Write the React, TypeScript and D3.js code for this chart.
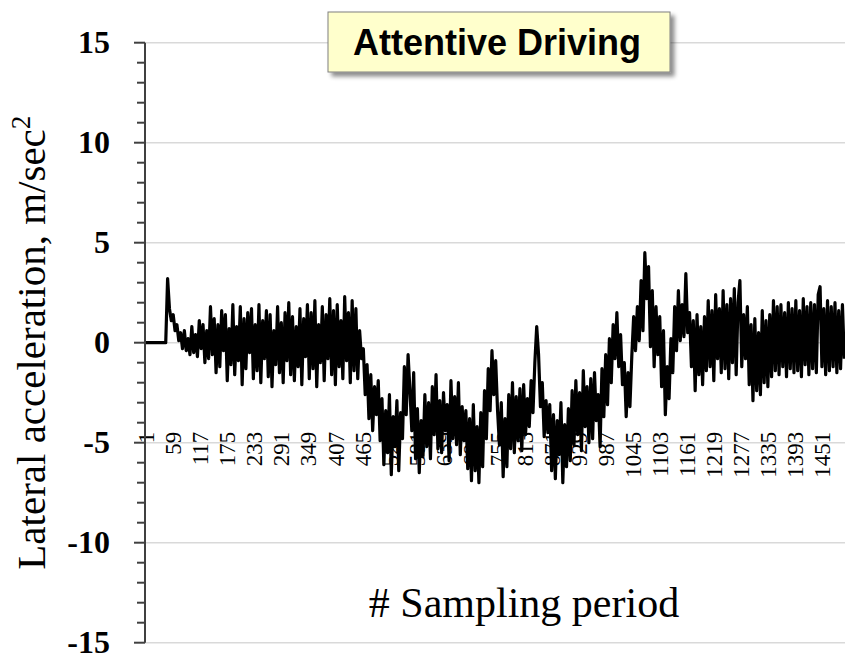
import React from "react";
import * as d3 from "d3";

// Lateral acceleration (m/sec^2), one reading every 4th sampling period starting at #1
const SAMPLE_STEP = 4;
const SAMPLE_COUNT = 1502;

const accel: number[] = [
  0, 0, 0, 0, 0, 0, 0, 0, 0, 0,
  0, 0, 3.2, 1.7, 1.1, 1.4, 0.6, 0.9, 0.1, 0.5,
  -0.3, 0.6, -0.4, 0.2, -0.6, 0.8, -0.5, 0.4, -0.7, 1.1,
  -0.3, 0.9, -1.0, 0.6, -0.8, 1.8, -0.6, 1.2, -1.5, 0.9,
  -1.2, 1.6, -0.4, 1.4, -1.9, 0.7, -1.1, 1.9, -1.6, 0.8,
  -0.9, 1.8, -2.1, 1.2, -1.3, 1.5, -0.5, 1.7, -1.8, 0.9,
  -1.4, 1.9, -2.0, 1.1, -0.8, 1.6, -1.7, 1.4, -2.2, 0.6,
  -1.1, 1.8, -1.5, 1.0, -2.0, 1.5, -0.9, 2.0, -1.6, 1.3,
  -1.9, 0.8, -1.2, 1.7, -2.1, 1.2, -0.7, 1.9, -1.8, 1.5,
  -1.3, 2.1, -2.2, 0.9, -1.0, 1.8, -1.9, 1.4, -0.8, 2.2,
  -1.6, 1.6, -2.1, 1.9, -1.2, 1.1, -1.8, 2.3, -0.9, 1.5,
  -2.0, 2.1, -1.4, 1.7, -1.8, 0.6, -0.8, -0.3, -2.6, -1.1,
  -3.8, -1.6, -4.4, -2.2, -3.6, -1.9, -4.9, -2.8, -6.1, -3.4,
  -5.5, -2.6, -6.6, -3.7, -5.2, -2.9, -6.4, -3.5, -4.8, -1.2,
  -3.6, -0.6, -2.4, -4.4, -1.5, -5.8, -3.3, -6.5, -3.9, -5.7,
  -2.6, -5.2, -3.0, -5.8, -2.2, -4.6, -1.6, -5.3, -2.9, -5.5,
  -2.5, -4.4, -3.1, -5.9, -1.9, -4.8, -2.7, -5.1, -2.0, -5.6,
  -3.2, -4.9, -3.4, -6.3, -3.8, -6.9, -3.1, -6.4, -4.2, -7.0,
  -3.5, -6.2, -2.4, -4.8, -1.3, -3.4, -0.4, -2.6, -0.9, -3.4,
  -5.1, -3.0, -6.7, -3.8, -6.2, -2.6, -5.3, -2.0, -5.5, -2.7,
  -4.9, -2.3, -5.4, -2.1, -4.6, -2.8, -4.2, -1.9, -3.5, -1.0,
  0.8, -0.6, -3.2, -2.0, -4.7, -2.9, -4.5, -3.1, -6.4, -3.6,
  -6.8, -3.9, -5.6, -3.0, -7.0, -4.1, -6.2, -3.3, -5.9, -2.4,
  -5.1, -1.9, -4.6, -2.5, -5.4, -1.4, -4.2, -2.2, -5.0, -1.8,
  -4.8, -1.5, -3.9, -2.6, -5.2, -1.3, -3.7, -0.6, -3.1, 0.2,
  -2.0, 0.9, -0.8, 1.5, -1.2, 0.4, -2.1, -1.0, -3.7, -1.5,
  -3.2, -0.7, 1.3, -0.4, 1.8, 0.1, 3.1, 0.6, 4.5, 2.2,
  3.8, -0.2, 2.6, -1.2, 1.8, -0.6, 1.3, -2.2, 0.6, -3.6,
  -1.2, -2.8, 0.2, -1.5, 1.8, -0.4, 2.6, 0.1, 1.9, 0.3,
  3.45, 0.5, 1.5, -1.2, 1.1, -2.4, 1.4, -1.6, 0.8, -2.1,
  1.3, -1.4, 2.1, -1.2, 1.6, -1.9, 2.4, -0.8, 1.7, -1.5,
  2.6, -1.3, 1.9, -1.8, 2.2, -1.0, 2.7, -1.6, 2.0, 3.1,
  -1.2, 1.4, -0.8, 1.8, -2.1, 0.9, -2.9, 1.2, -2.4, 0.5,
  -2.6, 1.6, -2.0, 1.1, -2.2, 1.4, -1.7, 2.1, -1.4, 1.8,
  -1.6, 1.9, -1.2, 1.5, -1.7, 2.0, -1.3, 1.7, -1.5, 2.1,
  -1.4, 1.6, -1.7, 2.2, -1.1, 1.8, -1.6, 2.0, -1.3, 1.9,
  -1.5, 2.4, 2.8, -1.2, 1.7, -1.6, 2.1, -1.4, 1.8, -1.2,
  2.0, -1.5, 1.6, -1.3, 1.9, -0.8,
];

const yMajorTicks = [-15, -10, -5, 0, 5, 10, 15];
const yMinorTicks = d3.range(-15, 16, 1);

const xTickLabels = [
  1, 59, 117, 175, 233, 291, 349, 407, 465, 523, 581, 639, 697, 755, 813,
  871, 929, 987, 1045, 1103, 1161, 1219, 1277, 1335, 1393, 1451,
];

const chartTitle = "Attentive Driving";
const xTitle = "# Sampling period";
const yTitle = "Lateral acceleration, m/sec";

export default function App() {
  const width = 845;
  const height = 656;
  const plotLeft = 145;
  const plotRight = 845;
  const plotTop = 42.7;
  const plotBottom = 642.7;
  const axisCross = -5;

  const x = d3
    .scaleLinear()
    .domain([0.5, SAMPLE_COUNT + 0.5])
    .range([plotLeft, plotRight]);
  const y = d3.scaleLinear().domain([-15, 15]).range([plotBottom, plotTop]);

  const points: [number, number][] = accel.map((v, i) => [1 + i * SAMPLE_STEP, v]);
  const line = d3
    .line<[number, number]>()
    .x((d) => x(d[0]))
    .y((d) => y(d[1]));

  const serif = "'Liberation Serif', 'Times New Roman', serif";
  const sans = "'Liberation Sans', Arial, sans-serif";
  const axisColor = "#404040";

  const boxX = 328;
  const boxY = 12;
  const boxW = 342;
  const boxH = 60;

  return (
    <svg
      width={width}
      height={height}
      style={{ position: "absolute", left: 0, top: 0, background: "#fff" }}
    >
      <defs>
        <filter id="boxShadow" x="-10%" y="-20%" width="130%" height="160%">
          <feDropShadow dx="4" dy="4" stdDeviation="2" floodColor="#000" floodOpacity="0.45" />
        </filter>
      </defs>

      {/* horizontal gridlines */}
      {yMajorTicks.map((t) => (
        <line
          key={`g${t}`}
          x1={plotLeft}
          x2={plotRight}
          y1={y(t)}
          y2={y(t)}
          stroke="#d9d9d9"
          strokeWidth={1.5}
        />
      ))}

      {/* category labels along the axis at -5 */}
      {xTickLabels.map((t) => (
        <text
          key={`xl${t}`}
          transform={`translate(${x(t) + 1},${y(axisCross) - 11}) rotate(-90)`}
          textAnchor="end"
          dy="0.35em"
          fontFamily={serif}
          fontSize={23}
          fill="#000"
        >
          {t}
        </text>
      ))}

      {/* series */}
      <path
        d={line(points) ?? ""}
        fill="none"
        stroke="#000"
        strokeWidth={3.2}
        strokeLinejoin="round"
      />

      {/* y axis */}
      <line x1={plotLeft} x2={plotLeft} y1={plotTop} y2={plotBottom} stroke={axisColor} strokeWidth={2} />
      {yMinorTicks.map((t) => (
        <line
          key={`mt${t}`}
          x1={plotLeft - (t % 5 === 0 ? 11 : 8)}
          x2={plotLeft}
          y1={y(t)}
          y2={y(t)}
          stroke={axisColor}
          strokeWidth={2}
        />
      ))}
      {yMajorTicks.map((t) => (
        <text
          key={`yl${t}`}
          x={110}
          y={y(t)}
          dy="0.32em"
          textAnchor="end"
          fontFamily={serif}
          fontWeight="bold"
          fontSize={32}
          fill="#000"
        >
          {t}
        </text>
      ))}

      {/* axis titles */}
      <text
        transform={`translate(45,${(plotTop + plotBottom) / 2}) rotate(-90)`}
        textAnchor="middle"
        fontFamily={serif}
        fontSize={41}
        fill="#000"
      >
        {yTitle}
        <tspan fontSize={27} dy={-15}>
          2
        </tspan>
      </text>
      <text
        x={524}
        y={617}
        textAnchor="middle"
        fontFamily={serif}
        fontSize={42}
        fill="#000"
      >
        {xTitle}
      </text>

      {/* title box */}
      <rect
        x={boxX}
        y={boxY}
        width={boxW}
        height={boxH}
        fill="#ffffcc"
        stroke="#808080"
        strokeWidth={1}
        filter="url(#boxShadow)"
      />
      <text
        x={boxX + boxW / 2 - 2}
        y={boxY + boxH / 2}
        dy="0.35em"
        textAnchor="middle"
        fontFamily={sans}
        fontWeight="bold"
        fontSize={36}
        fill="#000"
      >
        {chartTitle}
      </text>
    </svg>
  );
}
